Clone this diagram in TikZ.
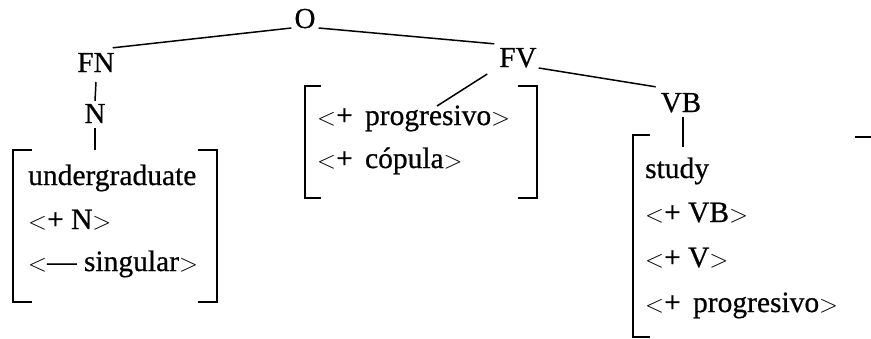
\documentclass[tikz,border=0pt]{standalone}
\usepackage{fontspec}
\setmainfont{Liberation Serif}
\newfontfamily\heavy[FakeBold=0.6]{Liberation Serif}
\begin{document}
\begin{tikzpicture}[x=1pt,y=-1pt,
  lbl/.style={inner sep=0pt,anchor=base,font=\heavy\fontsize{29}{34}\selectfont},
  row/.style={inner sep=0pt,anchor=base west,font=\heavy\fontsize{29.5}{34}\selectfont},
  area/.style={draw=none,inner sep=0pt,rectangle},
  edge/.style={line width=1.5pt},
  brk/.style={line width=2pt}]
\useasboundingbox (0,0) rectangle (871,338);
% tree labels
\node[lbl] (O) at (305,28) {O};
\node[lbl] (FN) at (96,72) {FN};
\node[lbl] (N) at (95,123) {N};
\node[lbl] (FV) at (518,67) {FV};
\node[lbl] (VB) at (681,112) {VB};
% bracket areas
\node[area,minimum width=204,minimum height=152] (LB) at (115,226) {};
\node[area,minimum width=232,minimum height=112] (MB) at (421,142) {};
\node[area,minimum width=40,minimum height=202] (RB) at (653,236) {};
% left bracket
\draw[brk] ([xshift=19pt]LB.north west) -- (LB.north west) -- (LB.south west) -- ++(19,0);
\draw[brk] ([xshift=-19pt]LB.north east) -- (LB.north east) -- (LB.south east) -- ++(-19,0);
% middle bracket
\draw[brk] ([xshift=16pt]MB.north west) -- (MB.north west) -- (MB.south west) -- ++(16,0);
\draw[brk] ([xshift=-19pt]MB.north east) -- (MB.north east) -- (MB.south east) -- ++(-19,0);
% right bracket (left side only)
\draw[brk] ([xshift=17pt]RB.north west) -- (RB.north west) -- (RB.south west) -- ++(17,0);
% texts
\node[row] (l1) at (28,185) {undergraduate};
\node[row] (l2) at (28,229) {$<$+ N$>$};
\node[row] (l3) at (28,271) {$<$\textemdash{} singular$>$};
\node[row] (m1) at (317,125) {$<$+\ \,progresivo$>$};
\node[row] (m2) at (317,168) {$<$+\ \,cópula$>$};
\node[row] (r1) at (645,178) {study};
\node[row] (r2) at (645,222) {$<$+ VB$>$};
\node[row] (r3) at (645,267) {$<$+ V$>$};
\node[row] (r4) at (645,312) {$<$+\ \,progresivo$>$};
% connector end points
\coordinate (fvend) at (437,106);
\coordinate (vbend) at (683,147);
\coordinate (stray1) at (855,137);
\coordinate (stray2) at (871,137);
% connectors
\draw[edge] ([xshift=-3pt]O.base west) -- ([xshift=-2pt,yshift=5pt]FN.north east);
\draw[edge] ([xshift=3pt]O.base east) -- ([xshift=-5pt,yshift=4pt]FV.north west);
\draw[edge] ([xshift=2pt,yshift=-1pt]FV.base east) -- ([xshift=-5pt,yshift=6pt]VB.north west);
\draw[edge] ([xshift=-12pt,yshift=-7pt]FV.base west) -- (fvend);
\draw[edge] ([yshift=-10pt]FN.base) -- ([yshift=3pt]N.north);
\draw[edge] ([yshift=-5pt]N.base) -- (LB.north -| N);
\draw[edge] ([xshift=2pt,yshift=-5pt]VB.base) -- (vbend);
\draw[edge] (stray1) -- (stray2);
\end{tikzpicture}
\end{document}
